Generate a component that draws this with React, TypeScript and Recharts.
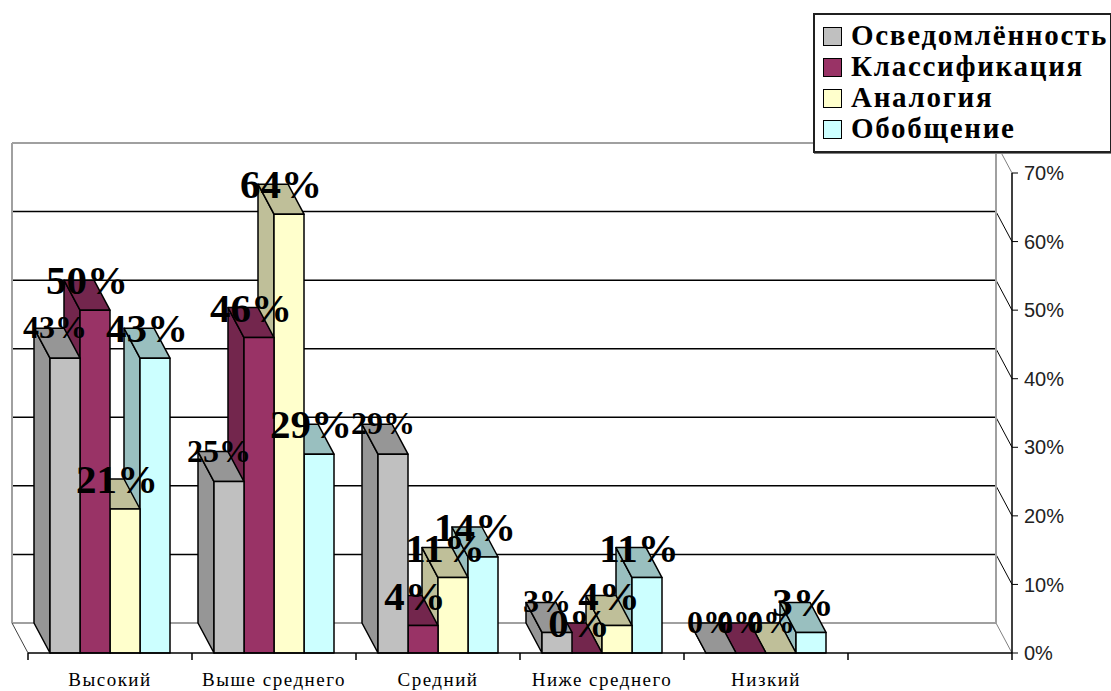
import {
  Bar,
  CartesianGrid,
  ComposedChart,
  Legend,
  XAxis,
  YAxis,
} from "recharts";

const categories = ["Высокий", "Выше среднего", "Средний", "Ниже среднего", "Низкий", ""];
const awareness = [43, 25, 29, 3, 0, null];
const classification = [50, 46, 4, 0, 0, null];
const analogy = [21, 64, 11, 4, 0, null];
const generalization = [43, 29, 14, 11, 3, null];
const percentTicks = [0, 10, 20, 30, 40, 50, 60, 70];

const seriesNames = ["Осведомлённость", "Классификация", "Аналогия", "Обобщение"];
const seriesValues = [awareness, classification, analogy, generalization];
const frontColors = ["#C0C0C0", "#993366", "#FFFFCC", "#CCFFFF"];
const sideColors = ["#969696", "#73264D", "#BFBF99", "#99BFBF"];

const chartData = categories.map((category, i) => {
  const row: Record<string, string | number | null> = { category };
  seriesNames.forEach((name, s) => {
    row[name] = seriesValues[s][i];
  });
  return row;
});

const serif = "'Liberation Serif', serif";
const depthX = 16;
const depthY = 30;
const barWidth = 30;
const bandWidth = 164;
const plotTop = 173;
const plotBottom = 653;

function GridLine(props: any) {
  const { x1, x2, y1 } = props;
  const top = Math.abs(y1 - plotTop) < 2;
  const floor = Math.abs(y1 - plotBottom) < 2;
  const edge = top || floor;
  return (
    <g fill="none">
      {top && (
        <path
          d={`M${x1 - depthX} ${y1 - depthY + plotBottom - plotTop}V${y1 - depthY}M${x2 - depthX} ${y1 - depthY}V${y1 - depthY + plotBottom - plotTop}`}
          stroke="#a0a0a0"
          strokeWidth={2}
        />
      )}
      <line
        x1={x1 - depthX}
        x2={x2 - depthX}
        y1={y1 - depthY}
        y2={y1 - depthY}
        stroke={edge ? "#a0a0a0" : "#000"}
        strokeWidth={edge ? 2 : 1.5}
      />
      <line x1={x2 - depthX} x2={x2} y1={y1 - depthY} y2={y1} stroke={edge ? "#808080" : "#000"} strokeWidth={1} />
      {floor && <line x1={x1 - depthX} x2={x1} y1={y1 - depthY} y2={y1} stroke="#404040" strokeWidth={1} />}
    </g>
  );
}

function CategoryTick(props: any) {
  const { x, y, payload, index } = props;
  return (
    <g>
      <line x1={x - bandWidth / 2} x2={x - bandWidth / 2} y1={y} y2={y + 7} stroke="#000" strokeWidth={1.5} />
      {index === categories.length - 1 && (
        <line x1={x + bandWidth / 2} x2={x + bandWidth / 2} y1={y} y2={y + 7} stroke="#000" strokeWidth={1.5} />
      )}
      <text x={x} y={y + 33} textAnchor="middle" fontFamily={serif} fontSize={19} letterSpacing={1.5} fill="#000">
        {payload.value}
      </text>
    </g>
  );
}

// drawn right to left so each bar's front hides the side of its right neighbour
function Bar3D(props: any) {
  const { x, y, width, height, payload, series } = props;
  if (payload[seriesNames[series]] == null) return <g />;
  const left = x + (3 - 2 * (3 - series)) * barWidth;
  const right = left + width;
  const bottom = y + height;
  const dark = sideColors[series];
  return (
    <g stroke="#000" strokeWidth={1.5} strokeLinejoin="round">
      <polygon
        points={`${left},${y} ${left - depthX},${y - depthY} ${left - depthX},${bottom - depthY} ${left},${bottom}`}
        fill={dark}
      />
      <polygon
        points={`${left},${y} ${right},${y} ${right - depthX},${y - depthY} ${left - depthX},${y - depthY}`}
        fill={dark}
      />
      {height > 0 && <rect x={left} y={y} width={width} height={height} fill={frontColors[series]} />}
    </g>
  );
}

// invisible second pass of bars, only carries the labels above every bar
function PercentLabel(props: any) {
  const { x, y, width, payload, index, series } = props;
  const value = payload[seriesNames[series]];
  if (value == null) return <g />;
  const small = series === 0 || (index === 4 && series < 3);
  return (
    <text
      x={x + width / 2 - depthX / 2 + (small ? -2 : 0)}
      y={y - (small ? 20 : 16)}
      textAnchor="middle"
      fontFamily={serif}
      fontWeight="bold"
      fontSize={small ? 32 : 41}
      fill="#000"
    >
      {`${value}%`}
    </text>
  );
}

function LegendBox() {
  return (
    <div
      style={{
        position: "relative",
        width: 295,
        height: 136,
        border: "2px solid #202020",
        background: "#fff",
        boxShadow: "1px 1px 0 #808080",
      }}
    >
      {seriesNames.map((name, i) => (
        <div key={name}>
          <div
            style={{
              position: "absolute",
              left: 8,
              top: 12 + i * 31,
              width: 17,
              height: 17,
              background: frontColors[i],
              border: "1.5px solid #000",
            }}
          />
          <div
            style={{
              position: "absolute",
              left: 36,
              top: 4 + i * 31,
              fontFamily: serif,
              fontWeight: "bold",
              fontSize: 29,
              lineHeight: "32px",
              letterSpacing: 1.7,
              whiteSpace: "nowrap",
              color: "#000",
            }}
          >
            {name}
          </div>
        </div>
      ))}
    </div>
  );
}

export default function App() {
  return (
    <div style={{ position: "absolute", left: 0, top: 0, width: 1111, height: 691 }}>
      <ComposedChart
        width={1111}
        height={691}
        data={chartData}
        barGap={0}
        barSize={barWidth}
        margin={{ top: plotTop, right: 49, bottom: 8, left: 28 }}
      >
        <CartesianGrid horizontal={GridLine} vertical={false} />
        <XAxis
          dataKey="category"
          height={30}
          interval={0}
          tickLine={false}
          tickSize={0}
          tickMargin={0}
          tick={CategoryTick}
          axisLine={{ stroke: "#000", strokeWidth: 1.5 }}
        />
        <XAxis xAxisId="labels" dataKey="category" hide />
        <YAxis
          orientation="right"
          width={50}
          domain={[0, 70]}
          ticks={percentTicks}
          interval={0}
          tickSize={6}
          tickMargin={6}
          tickFormatter={(v: number) => `${v}%`}
          tick={{ fontFamily: "'Liberation Sans', sans-serif", fontSize: 20, fill: "#222" }}
          tickLine={{ stroke: "#000" }}
          axisLine={{ stroke: "#000", strokeWidth: 1.5 }}
        />
        {[3, 2, 1, 0].map((s) => (
          <Bar
            key={seriesNames[s]}
            dataKey={seriesNames[s]}
            isAnimationActive={false}
            shape={(p: any) => <Bar3D {...p} series={s} />}
          />
        ))}
        {[0, 1, 2, 3].map((s) => (
          <Bar
            key={`${seriesNames[s]}-label`}
            xAxisId="labels"
            dataKey={seriesNames[s]}
            isAnimationActive={false}
            shape={(p: any) => <PercentLabel {...p} series={s} />}
          />
        ))}
        <Legend
          layout="horizontal"
          align="center"
          verticalAlign="middle"
          content={() => <LegendBox />}
          wrapperStyle={{ left: 813, top: 13, width: 299, height: 140, bottom: "auto", right: "auto" }}
        />
      </ComposedChart>
    </div>
  );
}
